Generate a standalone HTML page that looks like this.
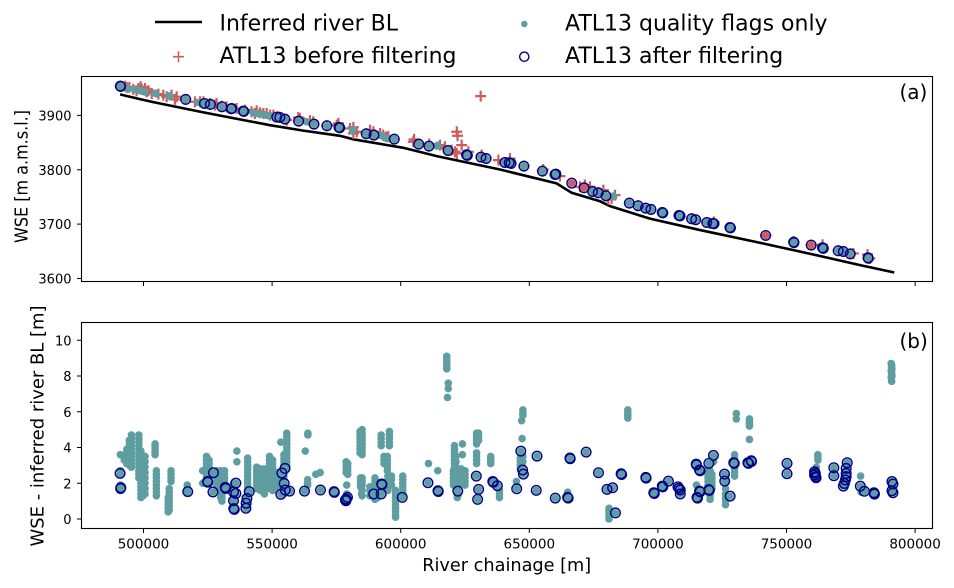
<!DOCTYPE html>
<html><head><meta charset="utf-8"><title>River WSE chart</title>
<style>
html,body{margin:0;padding:0;background:#fff;width:954px;height:588px;overflow:hidden}
svg{display:block}
text{font-family:"DejaVu Sans","Liberation Sans",sans-serif;fill:#000}
</style></head>
<body>
<svg id="chart" xmlns="http://www.w3.org/2000/svg" width="954" height="588" viewBox="0 0 954 588">
  <g>
    <line x1="155" x2="202" y1="22" y2="22" stroke="#000" stroke-width="2.6"/>
    <text x="219.5" y="30.5" font-size="22">Inferred river BL</text>
    <path d="M173 56.7h11M178.5 51.2v11" stroke="#cd5c5c" stroke-width="1.6" fill="none"/>
    <text x="219.5" y="63" font-size="22">ATL13 before filtering</text>
    <circle cx="524.3" cy="24" r="3.2" fill="#5f9ea0"/>
    <text x="565" y="30.5" font-size="22">ATL13 quality flags only</text>
    <circle cx="524.3" cy="56.7" r="4.6" fill="none" stroke="#00008b" stroke-width="1.4"/>
    <text x="565" y="63" font-size="22">ATL13 after filtering</text>
  </g>
  <g id="panelA"></g>
  <g id="panelB"></g>
  <rect x="81.5" y="76.5" width="851" height="205" fill="none" stroke="#000" stroke-width="1.1"/>
  <rect x="81.5" y="322.5" width="851" height="206" fill="none" stroke="#000" stroke-width="1.1"/>
  <text x="899.5" y="99" font-size="20">(a)</text>
  <text x="899.5" y="348" font-size="20">(b)</text>
  <text transform="translate(27.5 176.5) rotate(-90)" text-anchor="middle" font-size="17.5" textLength="133" lengthAdjust="spacingAndGlyphs">WSE [m a.m.s.l.]</text>
  <text transform="translate(43.5 426) rotate(-90)" text-anchor="middle" font-size="17.5" textLength="241" lengthAdjust="spacingAndGlyphs">WSE - inferred river BL [m]</text>
  <text x="506.7" y="571" text-anchor="middle" font-size="17.7">River chainage [m]</text>
</svg>
<script>
const xTicks = [500000, 550000, 600000, 650000, 700000, 750000, 800000];
const yTicksA = [3600, 3700, 3800, 3900];
const yTicksB = [0, 2, 4, 6, 8, 10];

const riverChainageKm = [490.9,498.6,503.8,523.3,549.2,562.1,576.4,581.6,601,614,638.6,645,660.6,666.5,677.5,681.4,696.9,716.4,742.3,764.3,778.6,791.9];
const riverElevation = [3938.6,3930,3924.5,3905.5,3882,3872,3862.5,3856,3840.4,3825,3800.5,3793,3775,3757.6,3742,3733,3710,3689,3663,3640,3624.5,3611];

const beforeChainageKm = [492.8,494.5,498.9,500.6,497.3,501.9,499.3,507.7,512.9,512.2,522,528.4,532.3,536.2,543.3,545.3,547.9,550.5,560.8,566,575.1,581.6,581.6,588.1,592,594.5,605.2,611.1,617.2,621.1,621.8,622.1,623.7,631.1,631.5,626.3,638,642.5,655.4,661.9,671.6,669.7,673.6,678.8,680.7,682,683.3,721.8,720.2,741.9,752.8,759.6,764,776,781.5,782.4,493.5,496,498,501.2,503.2,505.8,509,510.9,520,523.3,525.9,527.8,530.4,539.5,542,544,546.6,549.2,552.4,555.7,560.2,564.7,575.8,580.3,582.9,589.4,593.2,595.2,615.3,617.2,619.8,621.8,604.9];
const beforeWse = [3953.9,3951.5,3952.7,3949.6,3945.3,3945.3,3947.8,3937.4,3934.3,3929.4,3925.1,3922,3915.9,3912.8,3903.6,3904.8,3903.6,3900.5,3894.4,3888.3,3882.1,3877.9,3866.8,3872.9,3866.8,3860.7,3855.8,3847.2,3842.3,3833.1,3869.9,3862.5,3845.3,3935.5,3826.9,3833.1,3817.7,3820.8,3800.5,3788.3,3772,3768.7,3768.7,3762.6,3745.4,3747.2,3753.3,3704,3701.2,3679,3668,3661.3,3662,3646,3644,3636.8,3951.5,3947.8,3949.6,3943.5,3940.4,3939.2,3934.3,3937.4,3925,3925.1,3922,3919,3917,3909.7,3906.7,3908.5,3903.6,3900.5,3897.5,3891.4,3896.2,3890.2,3885.3,3876,3869.9,3869.9,3863.7,3860.7,3845.3,3839.2,3836.1,3830,3851.5];

const qualityChainageKmA = [494.1,496.7,498,499.3,500.6,504.5,504.9,509.9,510.3,521.3,522.6,542.7,544,545.3,547.2,548.8,563.4,581.3,581.5,591.3,592.7,593.9,595.2,614.4,614.1,682.7];
const qualityWseA = [3949.6,3947.8,3946.6,3944.7,3942.9,3941,3939.8,3936.1,3934.9,3923.9,3922,3904.8,3903.6,3902.4,3901.2,3899.3,3888.3,3872.9,3874.1,3863.7,3862.5,3858.8,3857.6,3845.3,3843.5,3751.5];

const afterChainageKmA = [491,491.1,516.4,523.7,526,530.5,534.1,534.3,538.8,539,551.8,553,555,560.3,566.3,571.3,576,576.3,586.6,589.6,597.5,607,611,618.4,625.6,625.9,631.2,633.2,640.5,642.2,642.9,647.9,655.1,660,660.3,674.6,676.8,679.8,688.9,692.3,695.2,697.3,701.7,701.9,708.2,708.6,713.1,714.7,719,721.8,721.4,728,728.2,752.8,752.9,764,764.3,770.1,772.1,774.8,781.7,781.8];
const afterWseA = [3953.9,3953.4,3929.4,3922,3920.2,3915.9,3912.2,3912.8,3907.9,3907.4,3896.9,3896.3,3893.2,3889.5,3884,3880.9,3877.9,3877.2,3866.2,3863.7,3856.4,3847.2,3843.5,3835.5,3827.5,3826.5,3823.3,3820.8,3813.4,3812.8,3811.6,3806.7,3797.5,3791.3,3792,3760,3757.6,3752,3738.6,3733.7,3729.4,3727,3721.4,3720.6,3715.9,3715.2,3709.8,3708,3703,3700.6,3701.4,3693.8,3693,3666.8,3666,3656.4,3655.4,3650.9,3649.6,3645.3,3638,3637.2];

const afterOnlyChainageKmA = [666.5,671.3,741.9,759.6];
const afterOnlyWseA = [3775.4,3766.8,3679,3661.3];

const afterChainageKmB = [490.9,491.2,491.1,517.2,524.9,525,527.2,527,531.8,532,535.9,535,535.9,535,535.1,535.3,541.1,540.2,539.9,539.8,553.4,553.8,555,554.7,555.1,556.8,562.6,568.8,574.1,574.2,578.8,579.3,578.5,578.7,589.5,592.6,592.7,592.4,600.6,610.6,614.5,614.6,622.2,629.4,630.3,629.9,635.8,636,637.6,645.1,646.7,647.4,647.7,653,652.7,660.1,664.9,665.1,665.8,665.9,672.1,676.9,680.2,682.4,683.5,685.7,685.9,695.3,695.4,698.4,698.6,701.7,701.9,704.1,707.8,708.7,708.7,708.2,714.9,715,716.2,716.4,715.2,715.4,716.2,716.4,719.8,721.6,719.8,720,725.9,726,728.1,729.5,729.7,735,735.2,736.3,736.4,750.2,750.2,760.9,760.9,761.5,761.2,761.3,768.4,768.4,773.6,773.2,773.2,773.2,772.9,772.5,772.1,778.7,780.3,784,784.1,784.2,791,791.4,791,791.4];
const afterResidualB = [2.55,1.75,1.71,1.53,2.1,2.06,2.59,1.51,1.77,1.71,2.01,1.51,1.43,1.02,.58,.54,1.53,1.15,.88,.6,1.38,2.57,2.83,1.99,1.62,1.56,1.56,1.62,1.53,1.49,1.12,1.21,1.06,1.02,1.4,1.96,1.92,1.4,1.21,2.03,1.58,1.54,1.56,2.4,1.66,1.1,2.1,2.06,1.86,1.69,3.8,2.74,2.51,3.52,1.6,1.17,1.21,1.17,3.41,3.37,3.74,2.59,1.66,1.75,.34,2.53,2.49,2.33,2.29,1.47,1.43,1.84,1.8,2.12,1.8,1.62,1.4,1.71,3.07,3.03,2.74,2.7,1.21,1.17,1.56,1.52,3.11,3.56,1.64,1.6,2.51,2.12,1.28,3.15,3.11,3.15,3.11,3.26,3.22,3.11,2.53,2.64,2.46,2.31,2.55,2.37,2.87,2.42,3.15,2.83,2.55,2.37,2.18,1.99,1.84,1.84,1.55,1.47,1.43,1.39,2.1,1.96,1.58,1.47];

const streakChainageKm = [491,492.5,493.5,494.5,495.3,498.2,499,499.8,500.6,504.5,505,510.7,510,509.6,517,523,524.5,525.5,528.5,530,531.5,530.5,536.3,535,540,540.5,544,545.5,547,549,550.2,552,553.4,555.7,554.6,562.9,563.9,563.8,567,568.7,574,578.8,579.4,579,584.2,584.4,584.8,588,585,590,591,592.4,593.5,594.8,595.6,595,596.4,598,600.8,610.8,614.4,617.9,618.5,618.2,620.9,621.5,624,620.5,622,623.5,625,622.2,629.5,630.3,629.5,635,638.4,645,646.5,647,647.5,647.2,664.9,681,688.3,715,719.5,720.3,721,721.6,726.3,729.8,730.5,735.6,761.6,762.2,778.8,779];
const streakResidual = [
[3.6,2.7,2.5,1.9,1.6],[3.5,3.3],[3.9,3.7,3.5,3.3,3.1],[4.4,4.2,4,3.8,3.6,3.4,3.2,3],[4.7,4.5,4.3,4.1,3.9,3.7,3.5,3.3,3.1,2.9],
[4.7,4.5,4.3,4.1,3.9,3.7,3.5,3.3,3.1,2.9,2.7,2.5,2.3],[3.8,3.5,3.2,2.9,2.6,2.3,2,1.8,1.6,1.4,1.2],[3.5,3.2,2.9,2.6,2.3,2.1,1.9,1.7,1.5,1.3],[3.5,3.2,2.9,2.6,2.3,2,1.7,1.4],
[4.2,4.05,3.9,3.75,3.6],[2.7,2.5,2.3,2.1,1.9,1.7,1.5,1.3],[2.7,2.5,2.3,2.1],[1.7,1.5,1.3,1.1,.9,.7,.5],[1.2,1,.8,.6,.4],[1.9,1.7,1.5],
[2.7,2],[3.5,3.3,3.1,2.9,2.7,2.5,2.3],[3.3,3.1,2.9,2.7,2.5,2.3],[2.7,2.5,2.3,2.1,1.9,1.7],[2.7,2.5,2.3,2.1,1.8,1.5,1.2],[2.7,2.5,2.3,2.1,1.9,1.7],[1,1.2,1.4],
[3.8,3.2],[2,1.8,1.5,1.2,.9,.6],[1.2,1,.8,.6],[3.4,3.2,3,2.8,2.6,2.4,2.2,2,1.8,1.6],
[2.9,2.7,2.5,2.3,2.1,1.9,1.7],[2.8,2.6,2.4,2.2,2,1.8,1.6],[2.8,2.6,2.4,2.2,2,1.8,1.6,1.4],[3.5,3.3,3.1,2.9,2.7,2.5,2.3,2.1,1.9,1.7],[3.3,3.1,2.9,2.7,2.5,2.3,2.1,1.9,1.6],[2.6,2.4,2.2,2,1.8],
[4.3],[4.8,4.6,4.4,4.2,4,3.8,3.6,3.4,3.2,3,2.8],[3.6,3.4,3.2,3,2.8,2.6,2.4,2.2,2,1.8,1.6,1.4],
[3.8],[4.8,4.7],[2.2,2,1.9],[2.5],[2.6],[1.5],
[3.2,3,2.8,2.6],[3.1,2.9,2.7,2.5],[1.9,1.4],[4.9,4.7,4.5,4.3,4.1,3.9,3.7],[2.3,2.1,1.9,1.8],[1.4],[1.8,1.6,1.3],[5,4.8,4.6,4.4,4.2,4,3.8,3.6,2.3,2.1,1.9,1.6,1.3],
[2.3,2.1,1.9,1.7,1.5,1.3,1.1],[2,1.8,1.5,1.2],[4.7,4.5,4.3,4.1],[3.5,3.3,3.1],[3.5,3.3,3.1,2.9,2.7],[4.9,4.7,4.5,4.3,4.1],[2.4,2.2,2,1.8,1.6],[2.4,2.2,1.9],
[1.6,1.4,1.2,1,.8,.6,.4,.2,.1],[2.4,2.2,2,1.8,1.6,1.4],[3.1],[2.7],[9.1,8.95,8.8,8.65,8.5,8.4],[7.6,7.3],[6.8],
[4.1,3.9,3.7,3.5,3.3,3.1,2.9,2.7,2.5,2.3,2.1,1.9],[3.5,3.2,2.9,2.7,2.5,2.3,2.1,1.9],[4.2,3.6],[2.7,2.5,2.3,2.1,1.9],[2.7,2.5,2.3,2.1,1.9,1.7,1.4,1.2],[2.8,2.6,2.4,2.2,2],[2.7,2.5,2.3,2.1,1.9],
[1.8,1.5,1.3],[4.8,4.65,4.5,4.35,4.2],[4.8,4.6,4.4],[3.7,3.5,3.3,3.1],[3.5,3.35,3.2,3.1],[1.6,1.4,1.2],[2.1],[3.4,3.2,3,2.8],[5.5],[6.1,5.9,5.8,3.5,3.2],[4.5,3],
[1.5],[.6,.45,.3,.15,0],[6.1,5.95,5.8,5.65],
[1.9],[2.7,2.5,2.3,2.1,1.9,1.7,1.5],[2.7,2.5,2.3,2.1,1.9,1.6,1.3,1.1],[2.5,2.3,2.1,1.9,1.7],[3.5,3.2],[2.4,2.1,1.7,1.4,1.2,1,.8],[3.6,3.4,3.2,3,2.8,2.6,2.4],[5.9,5.6],[5.6,5.5,5.4,5.3,5.2,4.45],[2.9,2.7],[3.6,3.45,3.3],[2.4],[1.5]
];
const topSteepChainageKm = [790.7,790.9,790.8,791,790.7,790.9,790.8,791,790.7,790.9];
const topSteepResidual = [8.7,8.6,8.5,8.4,8.3,8.2,8.1,8,7.9,7.7];

const NS = 'http://www.w3.org/2000/svg';
function xScale(m) { return 143.5 + (m - 500000) * 128.6 / 50000; }
function yScaleA(v) { return 115.4 + (3900 - v) * 0.5435; }
function yScaleB(v) { return 519 - v * 17.875; }
function node(parent, tag) { const n = document.createElementNS(NS, tag); parent.appendChild(n); return n; }
function dot(parent, cx, cy) {
  const c = node(parent, 'circle');
  c.setAttribute('cx', cx); c.setAttribute('cy', cy); c.setAttribute('r', 3.8); c.setAttribute('fill', '#5f9ea0');
  
  
}
function ring(parent, cx, cy) {
  const c = node(parent, 'circle');
  c.setAttribute('cx', cx); c.setAttribute('cy', cy); c.setAttribute('r', 4.8); c.setAttribute('fill', 'none');
  c.setAttribute('stroke', '#00008b'); c.setAttribute('stroke-width', 1.4);
  
  
}
function plus(parent, cx, cy) {
  const p = node(parent, 'path');
  p.setAttribute('d', 'M' + (cx - 5.5) + ' ' + cy + 'h11M' + cx + ' ' + (cy - 5.5) + 'v11');
  p.setAttribute('stroke', '#cd5c5c'); p.setAttribute('stroke-width', 2.2); p.setAttribute('fill', 'none');
  
  
}

const panelA = document.getElementById('panelA');
const panelB = document.getElementById('panelB');

// Axis ticks and labels
xTicks.forEach(function (t) {
  const x = xScale(t);
  [281.5, 528.5].forEach(function (base) {
    const m = node(base < 300 ? panelA : panelB, 'line');
    m.setAttribute('x1', x); m.setAttribute('x2', x); m.setAttribute('y1', base); m.setAttribute('y2', base + 4.5);
    m.setAttribute('stroke', '#000'); m.setAttribute('stroke-width', 1);
    
    
  });
  const l = node(panelB, 'text');
  l.setAttribute('x', x); l.setAttribute('y', 548.5); l.setAttribute('text-anchor', 'middle'); l.setAttribute('font-size', 13.5);
  
  
  l.textContent = t;
});
yTicksA.forEach(function (t) {
  const y = yScaleA(t);
  const m = node(panelA, 'line');
  m.setAttribute('x1', 77); m.setAttribute('x2', 81.5); m.setAttribute('y1', y); m.setAttribute('y2', y);
  m.setAttribute('stroke', '#000'); m.setAttribute('stroke-width', 1);
  
  
  const l = node(panelA, 'text');
  l.setAttribute('x', 71.5); l.setAttribute('y', y + 5); l.setAttribute('text-anchor', 'end'); l.setAttribute('font-size', 13);
  
  
  l.textContent = t;
});
yTicksB.forEach(function (t) {
  const y = yScaleB(t);
  const m = node(panelB, 'line');
  m.setAttribute('x1', 77); m.setAttribute('x2', 81.5); m.setAttribute('y1', y); m.setAttribute('y2', y);
  m.setAttribute('stroke', '#000'); m.setAttribute('stroke-width', 1);
  
  
  const l = node(panelB, 'text');
  l.setAttribute('x', 71.5); l.setAttribute('y', y + 5); l.setAttribute('text-anchor', 'end'); l.setAttribute('font-size', 13);
  
  
  l.textContent = t;
});

// Panel (a)
const riverLine = node(panelA, 'polyline');
riverLine.setAttribute('points', riverChainageKm.map(function (k, i) { return xScale(k * 1000) + ',' + yScaleA(riverElevation[i]); }).join(' '));
riverLine.setAttribute('fill', 'none'); riverLine.setAttribute('stroke', '#000'); riverLine.setAttribute('stroke-width', 2.6);



beforeChainageKm.forEach(function (k, i) { plus(panelA, xScale(k * 1000), yScaleA(beforeWse[i])); });
afterChainageKmA.forEach(function (k, i) { plus(panelA, xScale(k * 1000), yScaleA(afterWseA[i])); });
qualityChainageKmA.forEach(function (k, i) { dot(panelA, xScale(k * 1000), yScaleA(qualityWseA[i])); });
afterChainageKmA.forEach(function (k, i) { dot(panelA, xScale(k * 1000), yScaleA(afterWseA[i])); });
afterOnlyChainageKmA.forEach(function (k, i) {
  const c = node(panelA, 'circle');
  c.setAttribute('cx', xScale(k * 1000)); c.setAttribute('cy', yScaleA(afterOnlyWseA[i])); c.setAttribute('r', 3.8); c.setAttribute('fill', '#cd5c5c');
  
  
});
afterChainageKmA.forEach(function (k, i) { ring(panelA, xScale(k * 1000), yScaleA(afterWseA[i])); });
afterOnlyChainageKmA.forEach(function (k, i) { ring(panelA, xScale(k * 1000), yScaleA(afterOnlyWseA[i])); });

// Panel (b)
streakChainageKm.forEach(function (k, i) {
  streakResidual[i].forEach(function (r) { dot(panelB, xScale(k * 1000), yScaleB(r)); });
});
topSteepChainageKm.forEach(function (k, i) { dot(panelB, xScale(k * 1000), yScaleB(topSteepResidual[i])); });
afterChainageKmB.forEach(function (k, i) { dot(panelB, xScale(k * 1000), yScaleB(afterResidualB[i])); });
afterChainageKmB.forEach(function (k, i) { ring(panelB, xScale(k * 1000), yScaleB(afterResidualB[i])); });
</script>
</body></html>
